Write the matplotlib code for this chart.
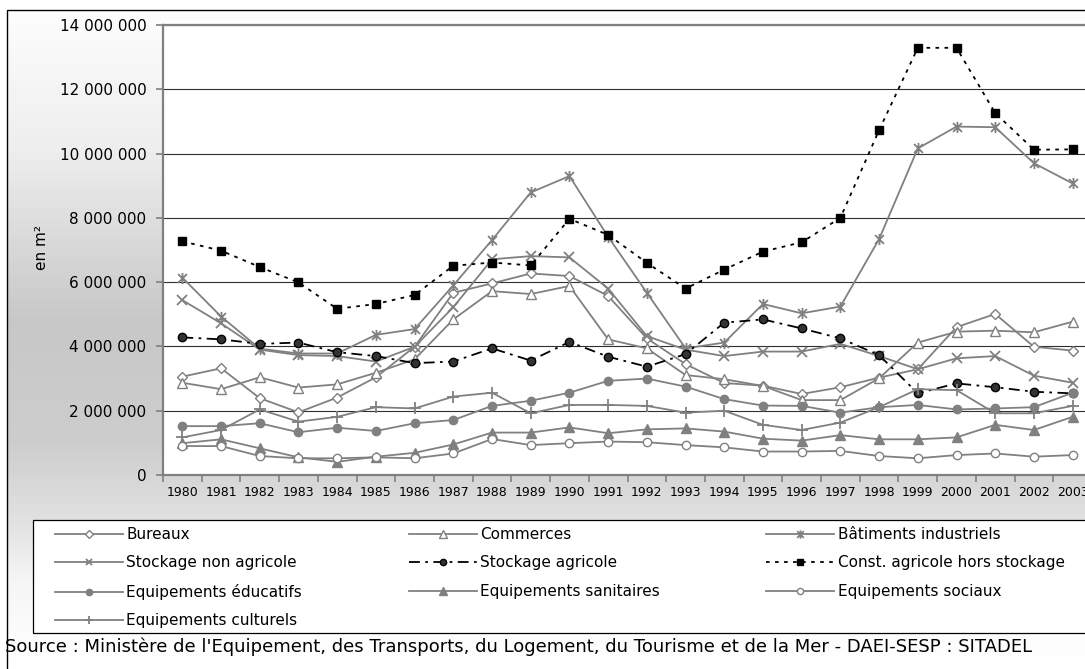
import matplotlib
matplotlib.use("Agg")
import matplotlib.pyplot as plt
import numpy as np
from matplotlib.path import Path
from matplotlib.patches import Rectangle
from matplotlib.ticker import FuncFormatter

# surfaces autorisées, en millions de m²
years = list(range(1980, 2004))

bureaux = [3.06, 3.32, 2.39, 1.95, 2.41, 3.04, 3.99, 5.67, 5.96, 6.27, 6.19, 5.57,
           4.25, 3.45, 2.86, 2.78, 2.52, 2.73, 3.03, 3.29, 4.60, 5.01, 3.99, 3.87]
commerces = [2.87, 2.67, 3.04, 2.72, 2.82, 3.18, 3.60, 4.84, 5.72, 5.63, 5.88, 4.22,
             3.94, 3.11, 2.98, 2.77, 2.33, 2.33, 3.01, 4.12, 4.46, 4.49, 4.44, 4.77]
bat_industriels = [6.14, 4.93, 3.93, 3.78, 3.78, 4.36, 4.54, 5.90, 7.31, 8.79, 9.30, 7.41,
                   5.67, 3.94, 4.12, 5.32, 5.03, 5.24, 7.34, 10.16, 10.84, 10.82, 9.70, 9.07]
stock_non_agri = [5.44, 4.72, 3.90, 3.73, 3.70, 3.53, 3.99, 5.22, 6.71, 6.81, 6.77, 5.80,
                  4.32, 3.90, 3.70, 3.84, 3.84, 4.08, 3.70, 3.29, 3.63, 3.70, 3.09, 2.87]
stock_agri = [4.28, 4.22, 4.08, 4.12, 3.82, 3.70, 3.48, 3.53, 3.94, 3.56, 4.14, 3.68,
              3.37, 3.76, 4.74, 4.84, 4.56, 4.25, 3.73, 2.54, 2.85, 2.73, 2.59, 2.54]
const_agri = [7.27, 6.98, 6.47, 5.99, 5.17, 5.32, 5.60, 6.51, 6.61, 6.52, 7.97, 7.47,
              6.60, 5.80, 6.39, 6.95, 7.24, 8.00, 10.73, 13.29, 13.29, 11.26, 10.12, 10.13]
eq_educatifs = [1.52, 1.52, 1.61, 1.33, 1.47, 1.37, 1.61, 1.71, 2.15, 2.31, 2.56, 2.93,
                3.00, 2.75, 2.36, 2.16, 2.15, 1.94, 2.11, 2.18, 2.04, 2.07, 2.11, 2.56]
eq_sanitaires = [0.99, 1.11, 0.83, 0.55, 0.41, 0.57, 0.69, 0.95, 1.32, 1.32, 1.48, 1.30,
                 1.42, 1.45, 1.35, 1.13, 1.07, 1.24, 1.11, 1.11, 1.17, 1.56, 1.40, 1.81]
eq_sociaux = [0.90, 0.90, 0.59, 0.52, 0.52, 0.55, 0.52, 0.67, 1.12, 0.93, 0.99, 1.04,
              1.02, 0.93, 0.86, 0.73, 0.73, 0.75, 0.59, 0.52, 0.62, 0.67, 0.57, 0.62]
eq_culturels = [1.17, 1.40, 2.04, 1.66, 1.81, 2.11, 2.07, 2.44, 2.56, 1.92, 2.18, 2.18,
                2.15, 1.94, 2.00, 1.56, 1.40, 1.63, 2.11, 2.67, 2.64, 1.92, 1.92, 2.15]

source = ("Source : Ministère de l'Equipement, des Transports, du Logement, "
          "du Tourisme et de la Mer - DAEI-SESP : SITADEL")

W, H = 1085, 669
fig = plt.figure(figsize=(W / 100, H / 100), dpi=100)

# fond dégradé gris du cadre
rows = np.arange(H)
stops_y = [10, 150, 320, 440, 520, 580, 669]
stops_v = [0.99, 0.93, 0.78, 0.80, 0.88, 0.96, 1.0]
col = np.interp(rows, stops_y, stops_v)
bg = np.repeat(col[:, None], W, axis=1)
bg[:10, :] = 1.0
bg[:, :7] = 1.0
bgax = fig.add_axes([0, 0, 1, 1], zorder=-10)
bgax.imshow(bg, cmap="gray", vmin=0, vmax=1, aspect="auto", extent=[0, 1, 0, 1],
            interpolation="bilinear")
bgax.set_axis_off()
fig.patches.append(Rectangle((7 / W, -0.05), 1.1, 1 - 10 / H + 0.05, transform=fig.transFigure,
                             fill=False, edgecolor="black", lw=1.0))

ax = fig.add_axes([163 / W, 1 - 475 / H, 929 / W, 450 / H])
ax.set_facecolor("white")

gray = "#808080"
x = np.arange(len(years))
m = 1e6

asterisk = Path([(0, -1), (0, 1), (-0.8, -0.8), (0.8, 0.8), (-0.8, 0.8), (0.8, -0.8)],
                [Path.MOVETO, Path.LINETO] * 3)

series = [
    ("Bureaux", bureaux, dict(color=gray, marker="D", ms=5.5, mfc="white", mec=gray)),
    ("Commerces", commerces, dict(color=gray, marker="^", ms=7, mfc="white", mec=gray)),
    ("Bâtiments industriels", bat_industriels,
     dict(color=gray, marker=asterisk, ms=8, mfc="none", mec=gray, mew=1.3)),
    ("Stockage non agricole", stock_non_agri,
     dict(color=gray, marker="x", ms=6.5, mec=gray, mew=1.3)),
    ("Stockage agricole", stock_agri,
     dict(color="black", ls=(0, (6, 3, 1.5, 3)), marker="o", ms=6, mfc="#333333", mec="black")),
    ("Const. agricole hors stockage", const_agri,
     dict(color="black", ls=(0, (2, 3)), marker="s", ms=6, mfc="black", mec="black")),
    ("Equipements éducatifs", eq_educatifs, dict(color=gray, marker="o", ms=6, mfc=gray, mec=gray)),
    ("Equipements sanitaires", eq_sanitaires, dict(color=gray, marker="^", ms=7, mfc=gray, mec=gray)),
    ("Equipements sociaux", eq_sociaux, dict(color=gray, marker="o", ms=6, mfc="white", mec=gray)),
    ("Equipements culturels", eq_culturels, dict(color=gray, marker="+", ms=8, mec=gray, mew=1.3)),
]

handles = []
for label, vals, style in series:
    h, = ax.plot(x, np.array(vals) * m, lw=1.3, label=label, clip_on=False, **style)
    handles.append(h)

ax.set_xlim(-0.5, 23.5)
ax.set_ylim(0, 14e6)
ax.set_yticks(np.arange(0, 14e6 + 1, 2e6))
ax.yaxis.set_major_formatter(FuncFormatter(lambda v, p: f"{v:,.0f}".replace(",", " ")))
ax.yaxis.grid(True, color="#303030", lw=0.8)
ax.set_axisbelow(True)

ax.set_xticks(np.arange(-0.5, 24, 1))
ax.set_xticklabels([])
ax.set_xticks(x, minor=True)
ax.set_xticklabels([str(y) for y in years], minor=True)
ax.tick_params(axis="x", which="major", length=5, color=gray, width=1.2)
ax.tick_params(axis="x", which="minor", length=0, labelsize=9, pad=8)
ax.tick_params(axis="y", length=5, color=gray, width=1.2, labelsize=11, pad=7)

for s in ["left", "bottom", "top"]:
    ax.spines[s].set_color(gray)
    ax.spines[s].set_linewidth(1.6)
ax.spines["right"].set_visible(False)

fig.text(42 / W, 1 - 248 / H, "en m²", rotation=90, ha="center", va="center", fontsize=11)

# cadre de la légende
fig.patches.append(Rectangle((33 / W, 1 - 633 / H), 1.2, 113 / H, transform=fig.transFigure,
                             facecolor="white", edgecolor="black", lw=0.9, zorder=1))

order = [0, 3, 6, 9, 1, 4, 7, 2, 5, 8]
leg = fig.legend([handles[i] for i in order], [series[i][0] for i in order],
                 loc="upper left", bbox_to_anchor=(55 / W, 1 - 527 / H), ncol=3,
                 frameon=False, fontsize=11, handlelength=4.45, handletextpad=0.2,
                 columnspacing=7.0, borderpad=0, borderaxespad=0, labelspacing=0.88,
                 markerscale=0.75)

fig.text(5 / W, 1 - 647 / H, source, ha="left", va="center", fontsize=13)

fig.savefig("out.png", dpi=100)
